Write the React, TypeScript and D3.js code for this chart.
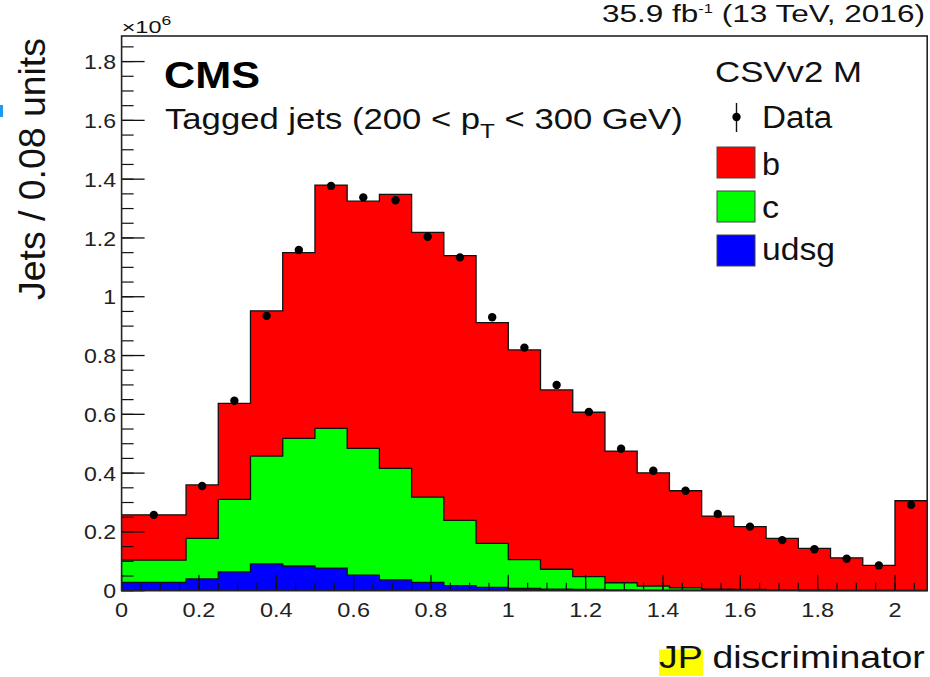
import React, { useLayoutEffect, useRef, useState } from 'react';
import * as d3 from 'd3';

const FONT = '"Liberation Sans", Arial, Helvetica, sans-serif';

// JP discriminator bin edges (first bin is double width)
const binEdges = [0, 0.1667, 0.25, 0.3333, 0.4167, 0.5, 0.5833, 0.6667, 0.75, 0.8333, 0.9167, 1.0, 1.0833, 1.1667, 1.25, 1.3333, 1.4167, 1.5, 1.5833, 1.6667, 1.75, 1.8333, 1.9167, 2.0, 2.0833];

// Stack components (units of 10^6 jets)
const udsgValues = [0.028, 0.040, 0.064, 0.091, 0.084, 0.077, 0.053, 0.037, 0.028, 0.017, 0.011, 0.008, 0.005, 0.004, 0.003, 0.002, 0.0015, 0.001, 0.001, 0.0008, 0.0006, 0.0005, 0.0004, 0.0004];
const cValues = [0.076, 0.138, 0.247, 0.367, 0.434, 0.475, 0.431, 0.379, 0.290, 0.222, 0.150, 0.098, 0.068, 0.044, 0.024, 0.014, 0.0085, 0.004, 0.003, 0.0012, 0.0009, 0.0007, 0.0006, 0.0006];
const bValues = [0.154, 0.182, 0.326, 0.494, 0.632, 0.828, 0.841, 0.932, 0.901, 0.901, 0.751, 0.713, 0.610, 0.559, 0.448, 0.385, 0.330, 0.249, 0.214, 0.176, 0.1425, 0.1108, 0.085, 0.305];
const dataValues = [0.258, 0.356, 0.646, 0.935, 1.159, 1.377, 1.338, 1.328, 1.204, 1.134, 0.930, 0.827, 0.700, 0.608, 0.483, 0.408, 0.340, 0.261, 0.218, 0.172, 0.141, 0.109, 0.086, 0.292];

const seriesNames = ['udsg', 'c', 'b'];
const seriesColors = ['#0000ff', '#00ff00', '#ff0000'];

const xTickValues = [0, 0.2, 0.4, 0.6, 0.8, 1.0, 1.2, 1.4, 1.6, 1.8, 2.0];
const xTickLabels = ['0', '0.2', '0.4', '0.6', '0.8', '1', '1.2', '1.4', '1.6', '1.8', '2'];
const yTickValues = [0, 0.2, 0.4, 0.6, 0.8, 1.0, 1.2, 1.4, 1.6, 1.8];
const yTickLabels = ['0', '0.2', '0.4', '0.6', '0.8', '1', '1.2', '1.4', '1.6', '1.8'];

const W = 930;
const H = 677;
const FL = 121.6, FR = 927.2, FT = 36, FB = 590.7;

function FitText({ x, y, width, size, weight = 'normal', anchor = 'start', rotate = false, fill = '#111', children }: any) {
  const ref = useRef<SVGTextElement>(null);
  const [sx, setSx] = useState(1);
  useLayoutEffect(() => {
    if (ref.current) {
      const w = ref.current.getBBox().width;
      if (w > 0) setSx(width / w);
    }
  }, [width]);
  const tx = anchor === 'end' && !rotate ? x - width : x;
  return (
    <g transform={`translate(${tx},${y})${rotate ? ' rotate(-90)' : ''} scale(${sx},1)`}>
      <text ref={ref} x={0} y={0} fontSize={size} fontWeight={weight} fill={fill} fontFamily={FONT}>
        {children}
      </text>
    </g>
  );
}

export default function App() {
  const x = d3.scaleLinear().domain([0, 2.0833]).range([FL, FR]);
  const y = d3.scaleLinear().domain([0, 1.887]).range([FB, FT]);

  const rows = binEdges.slice(0, -1).map((e, i) => ({ udsg: udsgValues[i], c: cValues[i], b: bValues[i] }));
  const stacked = d3.stack<any>().keys(seriesNames)(rows);

  const stepPoints = (tops: number[]) => {
    const pts: [number, number][] = tops.map((t, i) => [binEdges[i], t]);
    pts.push([binEdges[binEdges.length - 1], tops[tops.length - 1]]);
    return pts;
  };
  const area = d3.area<[number, number]>().x(d => x(d[0])).y0(y(0)).y1(d => y(d[1])).curve(d3.curveStepAfter);
  const line = d3.line<[number, number]>().x(d => x(d[0])).y(d => y(d[1])).curve(d3.curveStepAfter);

  // draw top layer first (cumulative), then lower ones over it
  const layers = stacked.map((s, k) => ({ tops: s.map(d => d[1]), color: seriesColors[k] })).reverse();

  const xMinor = d3.range(0, 2.0834, 0.05);
  const yMinor = d3.range(0, 1.8801, 0.05);

  const centers = binEdges.slice(0, -1).map((e, i) => (e + binEdges[i + 1]) / 2);

  return (
    <svg width={W} height={H} style={{ position: 'absolute', left: 0, top: 0, background: '#fff' }}>
      <rect x={0} y={0} width={W} height={H} fill="#fff" />
      <rect x={0} y={105} width={3} height={12} fill="#1e9bf0" />

      {layers.map((l, i) => (
        <g key={i}>
          <path d={area(stepPoints(l.tops)) || ''} fill={l.color} />
          <path d={line(stepPoints(l.tops)) || ''} fill="none" stroke="#111" strokeWidth={1.3} />
        </g>
      ))}

      {/* ticks */}
      {xMinor.map((v, i) => (
        <line key={'xm' + i} x1={x(v)} x2={x(v)} y1={FB} y2={FB - 8} stroke="#111" strokeWidth={1.2} />
      ))}
      {xTickValues.map((v, i) => (
        <line key={'xM' + i} x1={x(v)} x2={x(v)} y1={FB} y2={FB - 16} stroke="#111" strokeWidth={1.3} />
      ))}
      {yMinor.map((v, i) => (
        <line key={'ym' + i} x1={FL} x2={FL + 12} y1={y(v)} y2={y(v)} stroke="#111" strokeWidth={1.2} />
      ))}
      {yTickValues.map((v, i) => (
        <line key={'yM' + i} x1={FL} x2={FL + 23} y1={y(v)} y2={y(v)} stroke="#111" strokeWidth={1.3} />
      ))}

      {/* data points */}
      {dataValues.map((v, i) => (
        <circle key={'d' + i} cx={x(centers[i])} cy={y(v)} r={4.2} fill="#000" />
      ))}

      <rect x={FL} y={FT} width={FR - FL} height={FB - FT} fill="none" stroke="#222" strokeWidth={1.6} />

      {/* tick labels */}
      {xTickValues.map((v, i) => (
        <g key={'xl' + i} transform={`translate(${x(v)},617) scale(1.12,1)`}>
          <text textAnchor="middle" fontSize={21} fontFamily={FONT} fill="#222">{xTickLabels[i]}</text>
        </g>
      ))}
      {yTickValues.map((v, i) => (
        <g key={'yl' + i} transform={`translate(116,${y(v)}) scale(1.1,1)`}>
          <text textAnchor="end" dy="0.36em" fontSize={21} fontFamily={FONT} fill="#222">{yTickLabels[i]}</text>
        </g>
      ))}

      <FitText x={121.7} y={33.3} width={50} size={16}>
        <tspan>×10</tspan>
        <tspan fontSize={12} dy={-8}>6</tspan>
      </FitText>

      {/* axis titles */}
      <FitText x={45} y={300} width={262} size={37} rotate>Jets / 0.08 units</FitText>
      <rect x={659} y={649.5} width={44} height={26.5} fill="#ffff00" />
      <FitText x={925} y={668} width={266} size={31} anchor="end">JP discriminator</FitText>

      {/* header */}
      <FitText x={925} y={21.7} width={323} size={23} anchor="end">
        <tspan>35.9 fb</tspan>
        <tspan fontSize={12} dy={-9}>-1</tspan>
        <tspan dy={9}> (13 TeV, 2016)</tspan>
      </FitText>
      <FitText x={164} y={88.3} width={96} size={37} weight="bold" fill="#000">CMS</FitText>
      <FitText x={165} y={129.3} width={518} size={30}>
        <tspan>Tagged jets (200 &lt; p</tspan>
        <tspan fontSize={21} dy={9}>T</tspan>
        <tspan dy={-9}> &lt; 300 GeV)</tspan>
      </FitText>

      {/* legend */}
      <FitText x={715} y={82} width={147} size={30}>CSVv2 M</FitText>
      <line x1={736.5} x2={736.5} y1={103} y2={132} stroke="#111" strokeWidth={1.4} />
      <circle cx={736.5} cy={117} r={4.2} fill="#000" />
      <FitText x={762} y={128.3} width={71} size={31}>Data</FitText>
      {[2, 1, 0].map((k, j) => (
        <rect key={'lb' + k} x={717} y={147 + j * 44} width={38} height={31} fill={seriesColors[k]} stroke="#444" strokeWidth={1} />
      ))}
      <FitText x={762} y={175} width={18} size={32}>b</FitText>
      <FitText x={762} y={217.5} width={17} size={32}>c</FitText>
      <FitText x={762} y={260} width={73} size={31}>udsg</FitText>
    </svg>
  );
}
